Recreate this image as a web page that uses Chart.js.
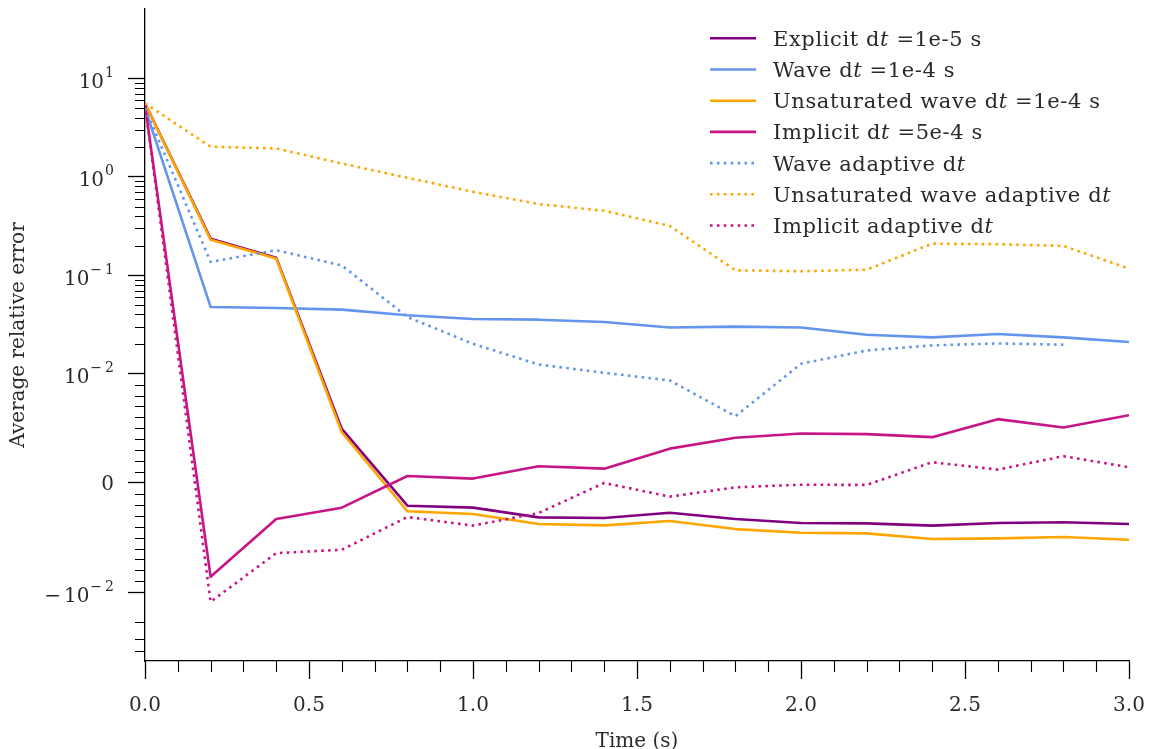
<!DOCTYPE html>
<html>
<head>
<meta charset="utf-8">
<script src="https://cdn.jsdelivr.net/npm/chart.js@4.4.1/dist/chart.umd.min.js"></script>
<style>
  html, body { margin: 0; padding: 0; background: #fff; }
  #wrap { width: 1150px; height: 749px; position: relative; }
</style>
</head>
<body>
<div id="wrap"><canvas id="chart"></canvas></div>
<script>
// Datos (error relativo medio frente al tiempo)
const TIME = [0, 0.2, 0.4, 0.6, 0.8, 1.0, 1.2, 1.4, 1.6, 1.8, 2.0, 2.2, 2.4, 2.6, 2.8, 3.0];

const EXPLICIT = [5.6, 0.236, 0.151, 0.00495, -0.00208, -0.00226, -0.00315, -0.0032, -0.00272, -0.0033, -0.00367, -0.0037, -0.0039, -0.00367, -0.0036, -0.00376];
const WAVE = [5.0, 0.0477, 0.0466, 0.0448, 0.0392, 0.036, 0.0354, 0.0335, 0.0295, 0.0301, 0.0295, 0.0249, 0.0234, 0.0253, 0.0234, 0.021];
const UNSAT_WAVE = [5.6, 0.23, 0.148, 0.00464, -0.00259, -0.00284, -0.00376, -0.00388, -0.00348, -0.00422, -0.00456, -0.00461, -0.00513, -0.00507, -0.00495, -0.0052];
const IMPLICIT = [5.4, -0.00859, -0.0033, -0.00226, 0.00064, 0.0004, 0.00153, 0.00131, 0.00314, 0.00413, 0.00452, 0.00447, 0.00419, 0.00584, 0.00507, 0.0062];
const WAVE_ADAPT = [5.0, 0.137, 0.18, 0.126, 0.0377, 0.0201, 0.0124, 0.0102, 0.00938, 0.00611, 0.0126, 0.0172, 0.0194, 0.0203, 0.0197, null];
const UNSAT_WAVE_ADAPT = [5.6, 2.03, 1.95, 1.37, 0.98, 0.707, 0.53, 0.453, 0.318, 0.1125, 0.11, 0.114, 0.21, 0.207, 0.199, 0.117];
const IMPLICIT_ADAPT = [5.4, -0.0125, -0.00642, -0.00611, -0.00312, -0.0039, -0.00275, 0, -0.00125, -0.0004, -0.00016, -0.00018, 0.0019, 0.00122, 0.00245, 0.00144];

// Marcas del eje Y (symlog, linthresh = 1e-2)
const Y_TICKS = [-0.01, 0, 0.01, 0.1, 1, 10];
const Y_MINOR = [-0.04, -0.03, -0.02,
  -0.009, -0.008, -0.007, -0.006, -0.005, -0.004, -0.003, -0.002, -0.001,
  0.001, 0.002, 0.003, 0.004, 0.005, 0.006, 0.007, 0.008, 0.009,
  0.02, 0.03, 0.04, 0.05, 0.06, 0.07, 0.08, 0.09,
  0.2, 0.3, 0.4, 0.5, 0.6, 0.7, 0.8, 0.9,
  2, 3, 4, 5, 6, 7, 8, 9];
const X_MINOR = [0.1, 0.2, 0.3, 0.4, 0.6, 0.7, 0.8, 0.9, 1.1, 1.2, 1.3, 1.4, 1.6, 1.7, 1.8, 1.9, 2.1, 2.2, 2.3, 2.4, 2.6, 2.7, 2.8, 2.9];

const FONT = '"DejaVu Serif", "Liberation Serif", serif';
const TEXT = '#2a2a2a';
const FONT_SIZE = 20;

/**
 * Series: etiqueta (partes normal / cursiva), datos y estilo
 */
const SERIES = [
  { parts: [['Explicit d', 0], ['t', 1], [' =1e-5 s', 0]], values: EXPLICIT, color: '#800080', dotted: false },
  { parts: [['Wave d', 0], ['t', 1], [' =1e-4 s', 0]], values: WAVE, color: '#6495ED', dotted: false },
  { parts: [['Unsaturated wave d', 0], ['t', 1], [' =1e-4 s', 0]], values: UNSAT_WAVE, color: '#FFA500', dotted: false },
  { parts: [['Implicit d', 0], ['t', 1], [' =5e-4 s', 0]], values: IMPLICIT, color: '#C71585', dotted: false },
  { parts: [['Wave adaptive d', 0], ['t', 1]], values: WAVE_ADAPT, color: '#6495ED', dotted: true },
  { parts: [['Unsaturated wave adaptive d', 0], ['t', 1]], values: UNSAT_WAVE_ADAPT, color: '#FFA500', dotted: true },
  { parts: [['Implicit adaptive d', 0], ['t', 1]], values: IMPLICIT_ADAPT, color: '#C71585', dotted: true }
];

const LINE_W = 2.6;
const DOT = [2.6, 4.3];

// Transformación symlog estilo matplotlib (base 10, linscale 1)
const LINTHRESH = 0.01;
const LINSCALE = 1 / (1 - 1 / 10);

function symlog(v) {
  const a = Math.abs(v);
  if (a <= LINTHRESH) return v / LINTHRESH * LINSCALE;
  return Math.sign(v) * (LINSCALE + Math.log10(a / LINTHRESH));
}

function symexp(f) {
  const a = Math.abs(f);
  if (a <= LINSCALE) return f / LINSCALE * LINTHRESH;
  return Math.sign(f) * LINTHRESH * Math.pow(10, a - LINSCALE);
}

class SymlogScale extends Chart.LinearScale {
  static id = 'symlog';
  static defaults = Chart.LinearScale.defaults;

  buildTicks() {
    return Y_TICKS.map(v => ({ value: v }));
  }

  getPixelForValue(value) {
    const a = symlog(this.min);
    const b = symlog(this.max);
    return this.getPixelForDecimal((symlog(value) - a) / (b - a));
  }

  getValueForPixel(pixel) {
    const a = symlog(this.min);
    const b = symlog(this.max);
    return symexp(a + this.getDecimalForPixel(pixel) * (b - a));
  }
}
Chart.register(SymlogScale);

// Marcas menores, etiquetas del eje Y y leyenda
const decorations = {
  id: 'decorations',
  afterDraw(chart) {
    const { ctx, scales: { x, y } } = chart;
    const x0 = x.left;
    const yBase = y.bottom;

    ctx.save();
    ctx.strokeStyle = '#000';
    ctx.lineWidth = 1.1;
    ctx.beginPath();
    Y_MINOR.forEach(v => {
      const py = Math.round(y.getPixelForValue(v)) + 0.5;
      ctx.moveTo(x0 - 10, py);
      ctx.lineTo(x0, py);
    });
    X_MINOR.forEach(v => {
      const px = Math.round(x.getPixelForValue(v)) + 0.5;
      ctx.moveTo(px, yBase);
      ctx.lineTo(px, yBase + 11);
    });
    ctx.stroke();

    // Etiquetas Y con superíndices
    ctx.fillStyle = TEXT;
    ctx.textAlign = 'right';
    ctx.textBaseline = 'alphabetic';
    const right = 114;
    Y_TICKS.forEach(v => {
      const py = y.getPixelForValue(v);
      if (v === 0) {
        ctx.font = `${FONT_SIZE}px ${FONT}`;
        ctx.fillText('0', right, py + 7.5);
        return;
      }
      const e = Math.round(Math.log10(Math.abs(v)));
      const digit = String(Math.abs(e));
      ctx.font = `14px ${FONT}`;
      let left = right - ctx.measureText(digit).width;
      ctx.fillText(digit, right, py - 1.5);
      if (e < 0) {
        ctx.fillText('\u2212', left - 3, py - 1.5);
        left -= 3 + ctx.measureText('\u2212').width;
      }
      ctx.font = `${FONT_SIZE}px ${FONT}`;
      ctx.fillText('10', left - 1, py + 9.5);
      if (v < 0) {
        const w10 = ctx.measureText('10').width;
        ctx.fillText('\u2212', left - 1 - w10 - 3, py + 9.5);
      }
    });

    // Leyenda
    const lx = 710;
    const tx = 773;
    SERIES.forEach((s, i) => {
      const ry = 38.3 + i * 31.2;
      ctx.strokeStyle = s.color;
      ctx.lineWidth = LINE_W;
      ctx.lineCap = 'butt';
      ctx.setLineDash(s.dotted ? DOT : []);
      ctx.beginPath();
      ctx.moveTo(lx, ry);
      ctx.lineTo(lx + 46, ry);
      ctx.stroke();
      ctx.setLineDash([]);

      ctx.textAlign = 'left';
      ctx.letterSpacing = '0.6px';
      let cx = tx;
      s.parts.forEach(([txt, italic]) => {
        ctx.font = `${italic ? 'italic ' : ''}21px ${FONT}`;
        ctx.fillText(txt, cx, ry + 7.5);
        cx += ctx.measureText(txt).width;
      });
      ctx.letterSpacing = '0px';
    });
    ctx.restore();
  }
};

const canvas = document.getElementById('chart');

new Chart(canvas.getContext('2d'), {
  type: 'line',
  data: {
    datasets: SERIES.map((s, i) => ({
      label: s.parts.map(p => p[0]).join(''),
      data: TIME.map((t, k) => ({ x: t, y: s.values[k] })),
      borderColor: s.color,
      backgroundColor: s.color,
      borderWidth: LINE_W,
      borderDash: s.dotted ? DOT : [],
      borderCapStyle: 'butt',
      borderJoinStyle: 'round',
      pointRadius: 0,
      tension: 0,
      fill: false,
      spanGaps: false,
      order: SERIES.length - i
    }))
  },
  options: {
    responsive: true,
    maintainAspectRatio: false,
    animation: false,
    layout: { padding: { top: 9, right: 21, left: 0, bottom: 0 } },
    plugins: {
      legend: { display: false },
      tooltip: { enabled: false }
    },
    scales: {
      x: {
        type: 'linear',
        position: 'bottom',
        min: 0,
        max: 3,
        border: { display: true, color: '#000', width: 1.3 },
        grid: { drawOnChartArea: false, drawTicks: true, tickLength: 18, tickWidth: 1.3, tickColor: '#000' },
        ticks: {
          stepSize: 0.5,
          autoSkip: false,
          maxRotation: 0,
          padding: 15,
          color: TEXT,
          font: { family: FONT, size: FONT_SIZE },
          callback: v => v.toFixed(1)
        },
        title: {
          display: true,
          text: 'Time (s)',
          color: TEXT,
          font: { family: FONT, size: FONT_SIZE, lineHeight: 1 },
          padding: { top: 0, bottom: -3 }
        },
        afterFit: s => {
          s.height = 88;
          s.paddingLeft = 0;
          s.paddingRight = 0;
        }
      },
      y: {
        type: 'symlog',
        position: 'left',
        min: -0.05,
        max: 51,
        border: { display: true, color: '#000', width: 1.3 },
        grid: { drawOnChartArea: false, drawTicks: true, tickLength: 17, tickWidth: 1.3, tickColor: '#000' },
        ticks: { display: false, autoSkip: false },
        title: {
          display: true,
          text: 'Average relative error',
          color: TEXT,
          font: { family: FONT, size: FONT_SIZE, lineHeight: 1.2 },
          padding: { top: 7, bottom: 0 }
        },
        afterFit: s => { s.width = 145; }
      }
    }
  },
  plugins: [decorations]
});
</script>
</body>
</html>
